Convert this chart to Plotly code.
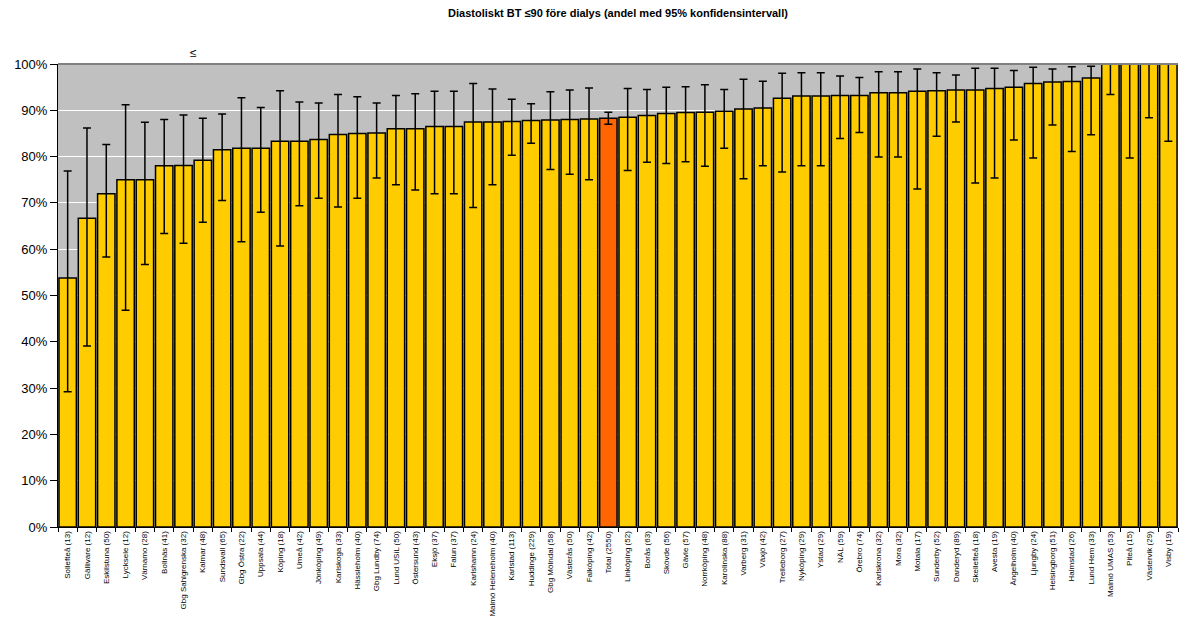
import plotly.graph_objects as go

# Units with number of patients, sorted by share
units = [
    "Sollefteå (13)", "Gällivare (12)", "Eskilstuna (50)", "Lycksele (12)", "Värnamo (28)",
    "Bollnäs (41)", "Gbg Sahlgrenska (32)", "Kalmar (48)", "Sundsvall (65)", "Gbg Östra (22)",
    "Uppsala (44)", "Köping (18)", "Umeå (42)", "Jönköping (49)", "Karlskoga (33)",
    "Hässleholm (40)", "Gbg Lundby (74)", "Lund USiL (50)", "Östersund (43)", "Eksjö (37)",
    "Falun (37)", "Karlshamn (24)", "Malmö Heleneholm (40)", "Karlstad (113)", "Huddinge (229)",
    "Gbg Mölndal (58)", "Västerås (50)", "Falköping (42)", "Total (2550)", "Linköping (52)",
    "Borås (63)", "Skövde (56)", "Gävle (57)", "Norrköping (48)", "Karolinska (88)",
    "Varberg (31)", "Växjö (42)", "Trelleborg (27)", "Nyköping (29)", "Ystad (29)",
    "NÄL (59)", "Örebro (74)", "Karlskrona (32)", "Mora (32)", "Motala (17)",
    "Sunderby (52)", "Danderyd (89)", "Skellefteå (18)", "Avesta (19)", "Ängelholm (40)",
    "Ljungby (24)", "Helsingborg (51)", "Halmstad (26)", "Lund Hem (33)", "Malmö UMAS (53)",
    "Piteå (15)", "Västervik (29)", "Visby (19)",
]

# Share (%) with diastolic BP <= 90 before dialysis
share = [
    53.8, 66.7, 72.0, 75.0, 75.0,
    78.0, 78.1, 79.2, 81.5, 81.8,
    81.8, 83.3, 83.3, 83.7, 84.8,
    85.0, 85.1, 86.0, 86.0, 86.5,
    86.5, 87.5, 87.5, 87.6, 87.8,
    87.9, 88.0, 88.1, 88.3, 88.5,
    88.9, 89.3, 89.5, 89.6, 89.8,
    90.3, 90.5, 92.6, 93.1, 93.1,
    93.2, 93.2, 93.8, 93.8, 94.1,
    94.2, 94.4, 94.4, 94.7, 95.0,
    95.8, 96.1, 96.2, 97.0, 100.0,
    100.0, 100.0, 100.0,
]

# 95% confidence interval, upper limit (%)
ci_high = [
    76.9, 86.2, 82.6, 91.2, 87.4,
    88.0, 89.0, 88.3, 89.2, 92.7,
    90.6, 94.2, 91.8, 91.6, 93.4,
    92.9, 91.6, 93.2, 93.6, 94.1,
    94.1, 95.8, 94.6, 92.4, 91.4,
    94.0, 94.4, 94.8, 89.6, 94.7,
    94.5, 95.0, 95.1, 95.5, 94.5,
    96.7, 96.3, 98.0, 98.1, 98.1,
    97.4, 97.1, 98.3, 98.3, 98.9,
    98.1, 97.6, 99.1, 99.1, 98.6,
    99.3, 98.9, 99.4, 99.5, 100.0,
    100.0, 100.0, 100.0,
]

# 95% confidence interval, lower limit (%)
ci_low = [
    29.2, 39.1, 58.3, 46.8, 56.7,
    63.4, 61.3, 65.8, 70.5, 61.6,
    68.0, 60.7, 69.4, 71.0, 69.1,
    71.0, 75.4, 73.9, 72.8, 72.0,
    72.0, 69.0, 73.9, 80.3, 82.9,
    77.2, 76.2, 75.0, 87.0, 77.0,
    78.8, 78.5, 78.9, 77.9, 81.8,
    75.2, 78.0, 76.7, 78.0, 78.0,
    83.9, 85.2, 79.9, 79.9, 73.0,
    84.4, 87.5, 74.3, 75.4, 83.6,
    79.7, 86.8, 81.1, 84.7, 93.4,
    79.7, 88.4, 83.3,
]

y_ticks = [0, 10, 20, 30, 40, 50, 60, 70, 80, 90, 100]
y_tick_text = [f"{t}%" for t in y_ticks]

colors = ["#FF6600" if u.startswith("Total") else "#FFCC00" for u in units]
err_plus = [h - s for h, s in zip(ci_high, share)]
err_minus = [s - l for s, l in zip(share, ci_low)]

W, H = 1183, 635
M_L, M_R, M_T, M_B = 58, 5, 64, 108

fig = go.Figure(
    go.Bar(
        x=units,
        y=share,
        marker=dict(color=colors, line=dict(color="#000000", width=1.5)),
        error_y=dict(
            type="data",
            symmetric=False,
            array=err_plus,
            arrayminus=err_minus,
            color="#000000",
            thickness=1.5,
            width=4,
        ),
        hoverinfo="x+y",
    )
)

fig.update_layout(
    width=W,
    height=H,
    margin=dict(l=M_L, r=M_R, t=M_T, b=M_B),
    paper_bgcolor="#FFFFFF",
    plot_bgcolor="#C0C0C0",
    bargap=0.1,
    showlegend=False,
    font=dict(family="Arial, Liberation Sans, sans-serif", color="#000000"),
    title=dict(
        text="<b>Diastoliskt BT ≤90 före dialys (andel med 95% konfidensintervall)</b>",
        x=0.5,
        xref="paper",
        y=1 - 13 / H,
        yref="container",
        xanchor="center",
        yanchor="middle",
        font=dict(size=11, family="Arial, Liberation Sans, sans-serif"),
    ),
)

# stray symbol above the plot area, positioned in pixels
fig.add_annotation(
    text="≤",
    x=(193 - M_L) / (W - M_L - M_R),
    y=1 + (M_T - 53) / (H - M_T - M_B),
    xref="paper",
    yref="paper",
    xanchor="center",
    yanchor="middle",
    showarrow=False,
    font=dict(size=12, color="#000000"),
)

fig.update_xaxes(
    type="category",
    tickangle=-90,
    tickfont=dict(size=8, color="#000000"),
    ticks="outside",
    tickson="boundaries",
    ticklen=4,
    tickcolor="#000000",
    showline=True,
    linecolor="#000000",
    linewidth=1,
    showgrid=False,
    mirror=False,
)

fig.update_yaxes(
    range=[0, 100],
    tickvals=y_ticks,
    ticktext=y_tick_text,
    tickfont=dict(size=13, color="#000000"),
    ticks="outside",
    ticklen=7,
    tickcolor="#000000",
    showline=True,
    linecolor="#000000",
    linewidth=1,
    showgrid=True,
    gridcolor="#FFFFFF",
    gridwidth=1,
    zeroline=False,
)

# grey frame line along the top of the plot area
fig.add_shape(
    type="line", xref="paper", yref="paper",
    x0=0, x1=1, y0=1, y1=1,
    line=dict(color="#808080", width=2),
)

fig.write_html("out.html")
